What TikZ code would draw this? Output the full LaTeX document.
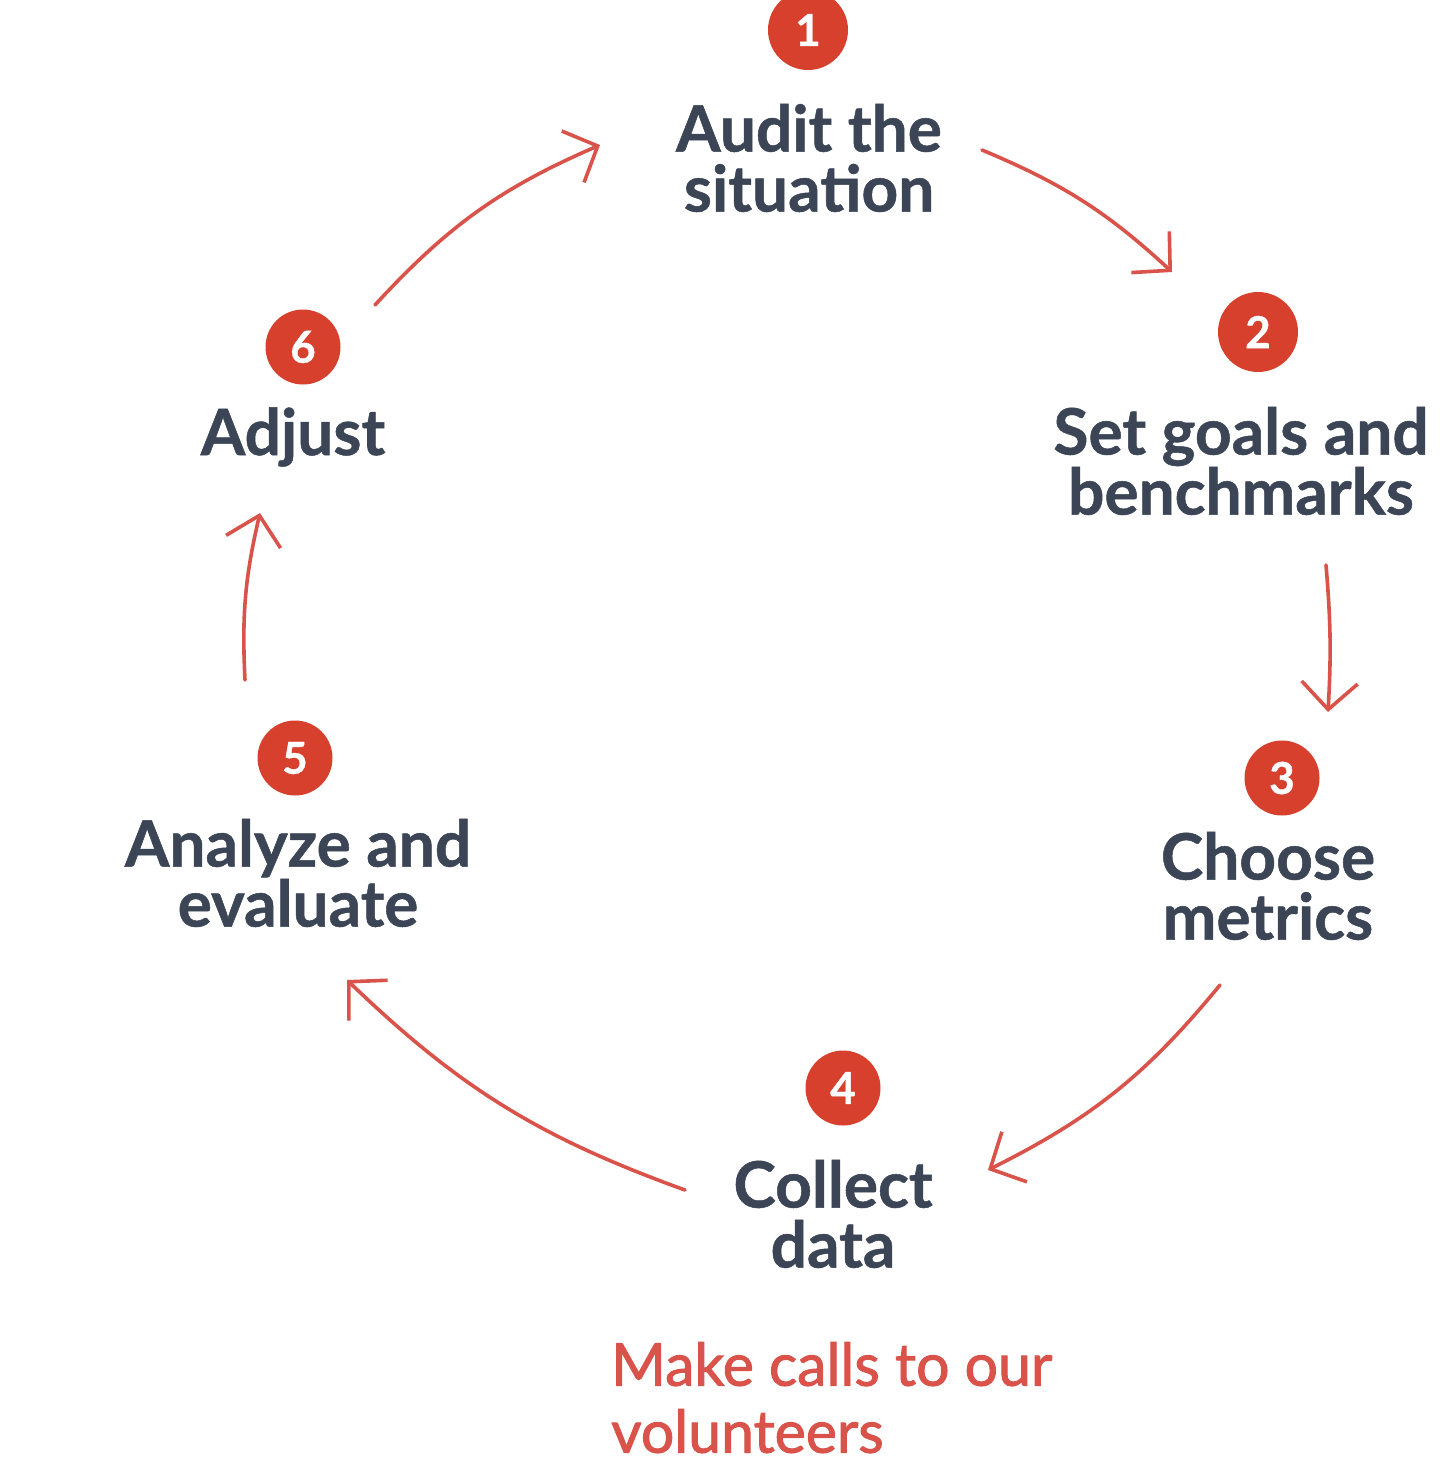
\documentclass[tikz,border=0pt]{standalone}
\usepackage{fontspec}
\setmainfont{Lato}
\newfontfamily\headfont[FakeBold=0.8]{Lato}
\newfontfamily\notefont[FakeBold=1.6]{Lato}
\usetikzlibrary{arrows.meta}
\definecolor{ink}{HTML}{3B4556}
\definecolor{badge}{HTML}{D6402C}
\definecolor{flow}{HTML}{D9534A}
\begin{document}
\begin{tikzpicture}[x=1pt,y=-1pt,
  numbadge/.style={circle,fill=badge,text=white,minimum size=76pt,inner sep=0pt,
    font=\fontsize{44}{44}\selectfont\headfont\bfseries},
  steplabel/.style={text=ink,align=center,inner sep=0pt,
    font=\fontsize{64}{60}\selectfont\headfont\bfseries},
  cycle/.style={draw=flow,line width=3.6pt,line cap=round,
    -{Straight Barb[length=27pt,width=56pt,line width=3.6pt]}},
  note/.style={text=flow,align=left,inner sep=0pt,
    font=\fontsize{59}{67}\selectfont\notefont}]
\useasboundingbox (0,0) rectangle (1454,1470);
\fill[white] (0,0) rectangle (1454,1470);

% numbered badges
\node[numbadge,minimum size=80pt] (n1) at (808,30) {1};
\node[numbadge,minimum size=80pt] (n2) at (1258,332) {2};
\node[numbadge,minimum size=75pt] (n3) at (1282,778) {3};
\node[numbadge,minimum size=75pt] (n4) at (843,1088) {4};
\node[numbadge,minimum size=75pt] (n5) at (295,758) {5};
\node[numbadge,minimum size=75pt] (n6) at (303,347) {6};

% step labels
\node[steplabel] (s1) at (809,158) {Audit the\\situation};
\node[steplabel] (s2) at (1241,461) {Set goals and\\benchmarks};
\node[steplabel] (s3) at (1268,886) {Choose\\metrics};
\node[steplabel] (s4) at (833,1214) {Collect\\data};
\node[steplabel] (s5) at (298,873) {Analyze and\\evaluate};
\node[steplabel] (s6) at (293,437) {Adjust};

% note under step 4
\node[note,anchor=north west] (memo) at (611,1342) {Make calls to our\\volunteers};

% connector end points
\coordinate (a1s) at (375,305);  \coordinate (a1e) at (600,145);
\coordinate (a2s) at (982,150);  \coordinate (a2e) at (1172,272);
\coordinate (a3s) at (1326,565); \coordinate (a3e) at (1328,712);
\coordinate (a4s) at (1220,985); \coordinate (a4e) at (988,1170);
\coordinate (a5s) at (685,1190); \coordinate (a5e) at (347,980);
\coordinate (a6s) at (245,680);  \coordinate (a6e) at (260,513);

% cycle arrows
\draw[cycle] (a1s) to[bend left=12] (a1e);
\draw[cycle] (a2s) to[bend left=10] (a2e);
\draw[cycle] (a3s) to[bend left=4] (a3e);
\draw[cycle] (a4s) to[bend left=12] (a4e);
\draw[cycle] (a5s) to[bend left=12] (a5e);
\draw[cycle] (a6s) to[bend left=8] (a6e);
\end{tikzpicture}
\end{document}
